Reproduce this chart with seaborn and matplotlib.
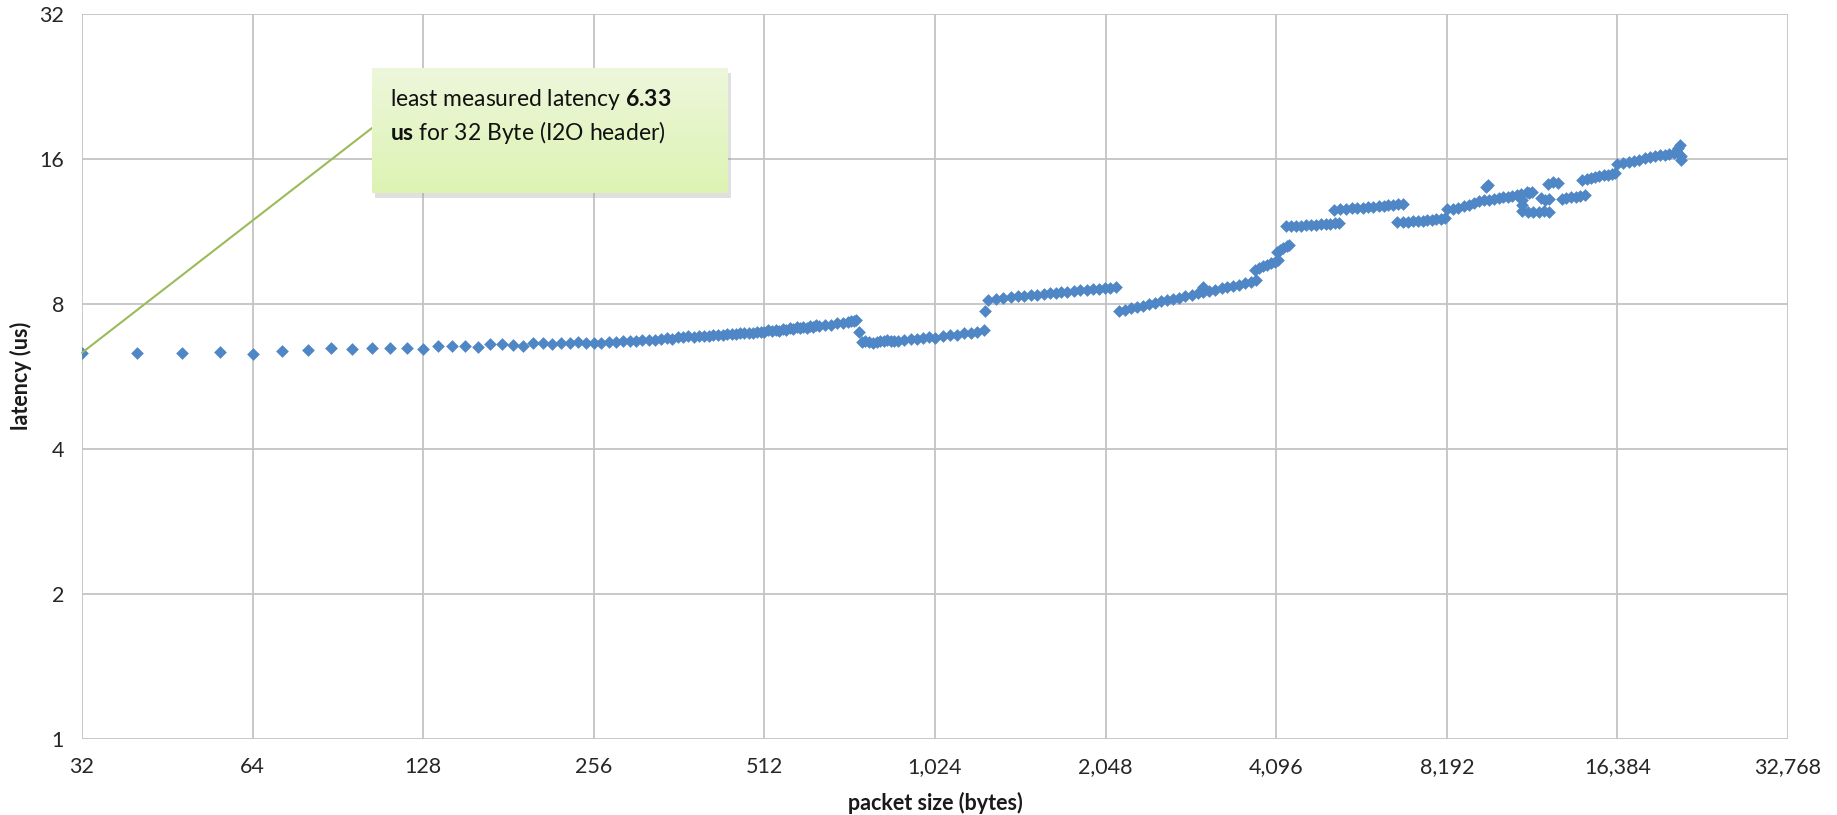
import pandas as pd
import matplotlib
matplotlib.use("Agg")
import matplotlib.pyplot as plt
from matplotlib.patches import Rectangle
import numpy as np
import seaborn as sns

# ---- data (packet size in bytes, latency in us) ----
# small packets, one point every 8 bytes
size_a = [32, 40, 48, 56, 64, 72, 80, 88, 96, 104, 112, 120, 128, 136, 144, 152,
          160, 168, 176, 184, 192, 200, 208, 216, 224, 232, 240, 248, 256]
lat_a = [6.33, 6.33, 6.33, 6.36, 6.30, 6.38, 6.40, 6.46, 6.43, 6.46, 6.46, 6.46, 6.43, 6.54, 6.54, 6.53,
         6.51, 6.59, 6.59, 6.57, 6.54, 6.64, 6.62, 6.61, 6.63, 6.64, 6.65, 6.64, 6.62]

# 256 .. 752
size_b = [264, 272, 280, 288, 296, 304, 312, 320, 328, 336, 344, 352, 360, 368, 376, 384,
          392, 400, 408, 416, 424, 432, 440, 448, 456, 464, 472, 480, 488, 496, 504, 512,
          520, 528, 536, 544, 552, 560, 568, 576, 584, 592, 600, 608, 616, 624, 632, 640,
          656, 672, 688, 704, 720, 728, 736, 744, 752]
lat_b = [6.64, 6.66, 6.66, 6.68, 6.70, 6.69, 6.72, 6.74, 6.73, 6.77, 6.78, 6.77, 6.81, 6.82, 6.84, 6.83,
         6.85, 6.87, 6.86, 6.89, 6.90, 6.88, 6.92, 6.93, 6.92, 6.95, 6.96, 6.94, 6.97, 6.99, 6.98, 7.00,
         7.04, 7.01, 7.06, 7.03, 7.09, 7.06, 7.12, 7.09, 7.15, 7.11, 7.17, 7.14, 7.19, 7.16, 7.21, 7.18,
         7.23, 7.24, 7.28, 7.30, 7.33, 7.38, 7.36, 7.40, 6.98]

# drop after ~750 bytes
size_c = [760, 772, 784, 796, 808, 820, 832, 844, 856, 868, 880, 904, 928, 952, 976, 1000, 1024,
          1056, 1088, 1120, 1152, 1184, 1216, 1248]
lat_c = [6.65, 6.69, 6.67, 6.64, 6.66, 6.70, 6.68, 6.72, 6.71, 6.68, 6.70, 6.73, 6.76, 6.75, 6.79, 6.81, 6.80,
         6.85, 6.88, 6.90, 6.94, 6.96, 7.00, 7.05]

# jump near 1256 bytes
size_d = [1256, 1272, 1312, 1352, 1392, 1432, 1472, 1512, 1552, 1592, 1632, 1672, 1712, 1752, 1800,
          1848, 1896, 1944, 1992, 2040, 2088, 2136]
lat_d = [7.74, 8.16, 8.20, 8.22, 8.25, 8.28, 8.29, 8.33, 8.35, 8.37, 8.41, 8.42, 8.45, 8.46, 8.50,
         8.53, 8.54, 8.58, 8.60, 8.61, 8.64, 8.67]

# drop after 2 KB
size_e = [2160, 2216, 2272, 2328, 2384, 2440, 2504, 2568, 2632, 2696, 2760, 2832, 2904, 2976, 3040,
          3048, 3120, 3200, 3280, 3360, 3440, 3520, 3608, 3696, 3776]
lat_e = [7.71, 7.76, 7.82, 7.87, 7.93, 7.97, 8.03, 8.09, 8.13, 8.19, 8.24, 8.30, 8.34, 8.40, 8.68,
         8.45, 8.50, 8.55, 8.61, 8.66, 8.71, 8.76, 8.82, 8.88, 8.96]

# steps around 4 KB
size_f = [3760, 3824, 3888, 3952, 4016, 4080, 4128, 4104, 4160, 4216, 4272, 4320]
lat_f = [9.40, 9.48, 9.56, 9.63, 9.71, 9.78, 9.84, 10.26, 10.35, 10.44, 10.52, 10.60]

size_g = [4264, 4352, 4440, 4528, 4624, 4720, 4816, 4912, 5008, 5104, 5200, 5296]
lat_g = [11.57, 11.58, 11.60, 11.62, 11.63, 11.65, 11.67, 11.69, 11.71, 11.73, 11.75, 11.77]

size_h = [5184, 5312, 5440, 5568, 5696, 5824, 5952, 6080, 6208, 6336, 6464, 6592, 6720, 6848]
lat_h = [12.52, 12.55, 12.58, 12.61, 12.63, 12.66, 12.69, 12.72, 12.74, 12.77, 12.80, 12.83, 12.86, 12.89]

size_i = [6704, 6848, 6992, 7136, 7280, 7424, 7568, 7712, 7856, 8000, 8144]
lat_i = [11.80, 11.82, 11.84, 11.86, 11.88, 11.90, 11.92, 11.94, 11.97, 11.99, 12.02]

size_j = [8192, 8384, 8576, 8768, 8960, 9152, 9344, 9536, 9728, 9920, 10112, 10304, 10496, 10688,
          10880, 11072, 9600, 9680]
lat_j = [12.55, 12.60, 12.65, 12.74, 12.84, 12.95, 13.05, 13.10, 13.15, 13.20, 13.24, 13.29, 13.34, 13.38,
         13.43, 13.48, 14.00, 14.12]

# noisy region 11 KB .. 14 KB
size_k = [11100, 11100, 11136, 11392, 11648, 11904, 12160, 12416, 11328, 11456, 11584, 12032, 12224,
          12416, 12352, 12608, 12864, 13056, 13312, 13568, 13824, 14080, 14336]
lat_k = [13.10, 12.80, 12.45, 12.40, 12.42, 12.38, 12.44, 12.40, 13.62, 13.55, 13.66, 13.25, 13.15,
         13.20, 14.20, 14.30, 14.25, 13.22, 13.26, 13.30, 13.33, 13.37, 13.42]

size_l = [14208, 14464, 14720, 14976, 15232, 15488, 15744, 16000, 16256]
lat_l = [14.45, 14.52, 14.58, 14.64, 14.70, 14.76, 14.82, 14.88, 14.95]

size_m = [16384, 16768, 17152, 17536, 17920, 18304, 18688, 19072, 19456, 19840, 20224, 20608, 20864,
          20992, 21120, 21184, 21248]
lat_m = [15.60, 15.69, 15.77, 15.85, 15.93, 16.01, 16.09, 16.17, 16.24, 16.31, 16.38, 16.45, 16.50,
         16.85, 17.05, 16.20, 15.90]

x_ticks = [32, 64, 128, 256, 512, 1024, 2048, 4096, 8192, 16384, 32768]
x_tick_labels = ['32', '64', '128', '256', '512', '1,024', '2,048', '4,096', '8,192', '16,384', '32,768']
y_ticks = [1, 2, 4, 8, 16, 32]
y_tick_labels = ['1', '2', '4', '8', '16', '32']

sizes = size_a + size_b + size_c + size_d + size_e + size_f + size_g + size_h + size_i + size_j + size_k + size_l + size_m
lats = lat_a + lat_b + lat_c + lat_d + lat_e + lat_f + lat_g + lat_h + lat_i + lat_j + lat_k + lat_l + lat_m
df = pd.DataFrame({'size': sizes, 'latency': lats})

# ---- style ----
sns.set_style("white")
plt.rcParams['font.family'] = ['Lato', 'DejaVu Sans']
plt.rcParams['mathtext.fontset'] = 'custom'
plt.rcParams['mathtext.rm'] = 'Lato'
plt.rcParams['mathtext.bf'] = 'Lato:bold'

W, H = 1837, 815
fig = plt.figure(figsize=(W / 100, H / 100), dpi=100)
fig.patch.set_facecolor('white')

# plot area in pixels: x 82..1788, y 13.5..739
ax = fig.add_axes([82 / W, 1 - 739 / H, (1788 - 82) / W, (739 - 13.5) / H])

sns.scatterplot(data=df, x='size', y='latency', marker='D', s=42, color='#4F86C6',
                linewidth=0, ax=ax, zorder=3, legend=False)

ax.set_xscale('log', base=2)
ax.set_yscale('log', base=2)
ax.set_xlim(32, 32768)
ax.set_ylim(1, 32)
ax.set_xticks(x_ticks)
ax.set_xticklabels(x_tick_labels)
ax.set_yticks(y_ticks)
ax.set_yticklabels(y_tick_labels)
ax.minorticks_off()
ax.set_xlabel('')
ax.set_ylabel('')

grid_col = '#C4C4C4'
ax.grid(True, color=grid_col, linewidth=1.3)
for sp in ax.spines.values():
    sp.set_visible(False)
ax.tick_params(axis='both', length=5, width=1, color=grid_col, labelsize=15.5, labelcolor='#262626')
ax.tick_params(axis='x', pad=8)
ax.tick_params(axis='y', pad=8)

fig.text(935 / W, 1 - 803 / H, 'packet size (bytes)', ha='center', va='center',
         fontsize=15.5, fontweight='bold', color='#1a1a1a')
fig.text(21 / W, 1 - 376 / H, 'latency (us)', ha='center', va='center', rotation=90,
         fontsize=15.5, fontweight='bold', color='#1a1a1a')

# ---- callout ----
bx0, by0, bx1, by1 = 372, 68, 728, 193
ax.annotate('', xy=(32, 6.33), xycoords='data',
            xytext=(bx0 / W, 1 - 128 / H), textcoords='figure fraction',
            arrowprops=dict(arrowstyle='-', color='#9BBB59', lw=1.5, shrinkA=0, shrinkB=0),
            annotation_clip=False, zorder=4)

shadow = Rectangle((bx0 / W + 3 / W, 1 - (by1 + 5) / H), (bx1 - bx0) / W, (by1 - by0) / H,
                   transform=fig.transFigure, facecolor='#9a9a9a', alpha=0.3, edgecolor='none', zorder=4)
fig.patches.append(shadow)

box_ax = fig.add_axes([bx0 / W, 1 - by1 / H, (bx1 - bx0) / W, (by1 - by0) / H])
box_ax.set_zorder(5)
top = np.array([0.930, 0.968, 0.860])
bot = np.array([0.865, 0.955, 0.700])
t = np.linspace(0, 1, 100)[:, None]
grad = (top[None, :] * (1 - t) + bot[None, :] * t)[:, None, :]
box_ax.imshow(grad, aspect='auto', extent=[0, 1, 0, 1])
box_ax.set_xlim(0, 1)
box_ax.set_ylim(0, 1)
box_ax.axis('off')
box_ax.text(18 / (bx1 - bx0), 1 - 38 / (by1 - by0), r'least measured latency $\mathbf{6.33}$',
            fontsize=16.5, color='#111111', va='baseline', ha='left')
box_ax.text(18 / (bx1 - bx0), 1 - 72 / (by1 - by0), r'$\mathbf{us}$ for 32 Byte (I2O header)',
            fontsize=16.5, color='#111111', va='baseline', ha='left')

fig.savefig('out.png', dpi=100)
